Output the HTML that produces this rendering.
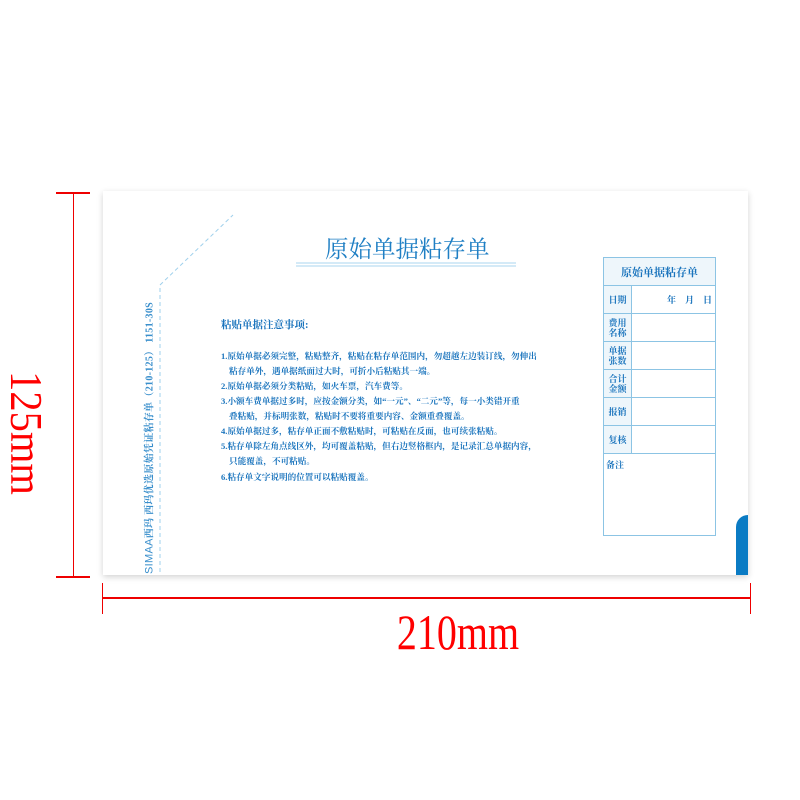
<!DOCTYPE html>
<html><head><meta charset="utf-8"><style>
body{margin:0;width:800px;height:800px;background:#fff;position:relative;overflow:hidden;font-family:"Liberation Serif","Noto Serif CJK SC",serif}
.a{position:absolute}
.paper{left:103px;top:191px;width:645px;height:384px;background:#fff;box-shadow:0 2px 6px rgba(0,0,0,.18)}
.blue{color:#1f7fc4}
.n{position:absolute;left:221px;font-size:8.6px;color:#1a74bd;font-weight:bold;white-space:nowrap;font-family:"Liberation Serif","Noto Serif CJK SC",serif}
table{border-collapse:collapse}
td{border:1px solid #8cc4e4;color:#1a74bd;font-weight:bold;font-size:9.5px;padding:0;font-family:"Noto Serif CJK SC",serif}
</style></head><body>
<div class="a" style="left:73px;top:193px;width:1px;height:384px;background:#e00"></div>
<div class="a" style="left:56px;top:192px;width:34px;height:2px;background:#e00"></div>
<div class="a" style="left:56px;top:576px;width:34px;height:2px;background:#e00"></div>
<div class="a" style="left:103px;top:597px;width:648px;height:2px;background:#e00"></div>
<div class="a" style="left:102px;top:583px;width:1px;height:31px;background:#e00"></div>
<div class="a" style="left:750px;top:583px;width:1px;height:31px;background:#e00"></div>
<div class="a" style="left:458px;top:632px;transform:translate(-50%,-50%) scaleX(0.8);font-size:50px;color:#f00;line-height:1;white-space:nowrap">210mm</div>
<div class="a" style="left:26px;top:433px;transform:translate(-50%,-50%) rotate(90deg) scaleX(0.88);font-size:46px;color:#f00;line-height:1;white-space:nowrap">125mm</div>

<div class="a paper"></div>
<div class="a" style="left:736px;top:515px;width:12px;height:60px;background:#0a7bc4;border-top-left-radius:12px"></div>

<svg class="a" style="left:0;top:0" width="800" height="800">
<path d="M160,572 L160,285 L233,215" fill="none" stroke="#9fd0ec" stroke-width="1" stroke-dasharray="4,3"/>
<line x1="296" y1="263" x2="516" y2="263" stroke="#a9d6ef" stroke-width="1"/>
<line x1="296" y1="266" x2="516" y2="266" stroke="#a9d6ef" stroke-width="1"/>
</svg>

<div class="a blue" style="left:325px;top:236px;font-size:23.5px;line-height:1;white-space:nowrap;font-family:'Noto Serif CJK SC',serif">原始单据粘存单</div>

<div class="a" style="left:150px;top:438px;transform:translate(-50%,-50%) rotate(-90deg);font-size:10px;letter-spacing:0.3px;font-weight:bold;color:#3a8fcc;white-space:nowrap;line-height:1"><span style="font-family:'Liberation Sans',sans-serif;font-size:11px;font-weight:normal">SIMAA</span>西玛 西玛优选原始凭证粘存单（210-125） 1151-30S</div>

<div class="n" style="top:317px;font-size:10.5px">粘贴单据注意事项:</div>
<div class="n" style="top:350px">1.原始单据必须完整，粘贴整齐，粘贴在粘存单范围内，勿超越左边装订线，勿伸出</div>
<div class="n" style="top:365px;left:229px">粘存单外，遇单据纸面过大时，可折小后粘贴其一端。</div>
<div class="n" style="top:380px">2.原始单据必须分类粘贴，如火车票，汽车费等。</div>
<div class="n" style="top:395px">3.小额车费单据过多时，应按金额分类，如“一元”、“二元”等，每一小类错开重</div>
<div class="n" style="top:410px;left:229px">叠粘贴，并标明张数，粘贴时不要将重要内容、金额重叠覆盖。</div>
<div class="n" style="top:425px">4.原始单据过多，粘存单正面不敷粘贴时，可粘贴在反面，也可续张粘贴。</div>
<div class="n" style="top:440px">5.粘存单除左角点线区外，均可覆盖粘贴，但右边竖格框内，是记录汇总单据内容，</div>
<div class="n" style="top:455px;left:229px">只能覆盖，不可粘贴。</div>
<div class="n" style="top:471px">6.粘存单文字说明的位置可以粘贴覆盖。</div>

<table class="a" style="left:603px;top:257px;width:113px">
<tr style="height:28px;background:#eef6fb"><td colspan="2" style="text-align:center;font-size:11px">原始单据粘存单</td></tr>
<tr style="height:28px"><td style="width:27px;background:#eef6fb;text-align:center;font-size:9px">日期</td><td style="text-align:right;font-size:9px;padding-right:3px">年&nbsp;&nbsp;&nbsp;&nbsp;月&nbsp;&nbsp;&nbsp;&nbsp;日</td></tr>
<tr style="height:28px"><td style="background:#eef6fb;text-align:center;font-size:9px;line-height:1.1">费用<br>名称</td><td></td></tr>
<tr style="height:28px"><td style="background:#eef6fb;text-align:center;font-size:9px;line-height:1.1">单据<br>张数</td><td></td></tr>
<tr style="height:28px"><td style="background:#eef6fb;text-align:center;font-size:9px;line-height:1.1">合计<br>金额</td><td></td></tr>
<tr style="height:28px"><td style="background:#eef6fb;text-align:center;font-size:9px">报销</td><td></td></tr>
<tr style="height:28px"><td style="background:#eef6fb;text-align:center;font-size:9px">复核</td><td></td></tr>
<tr style="height:82px"><td colspan="2" style="vertical-align:top;font-size:9px;padding:4px 2px">备注</td></tr>
</table>
</body></html>
